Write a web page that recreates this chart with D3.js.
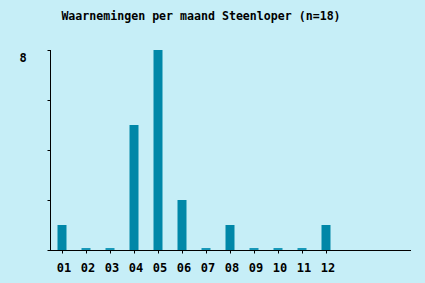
<!DOCTYPE html>
<html>
<head>
<meta charset="utf-8">
<script src="https://cdn.jsdelivr.net/npm/d3@7"></script>
<style>
  html, body { margin: 0; padding: 0; background: #c6eef7; }
  svg { display: block; }
  text { font-family: "DejaVu Sans Mono", "Liberation Mono", monospace; font-weight: bold; fill: #000; }
</style>
</head>
<body>
<svg id="chart"></svg>
<script>
// Data
const months = ["01", "02", "03", "04", "05", "06", "07", "08", "09", "10", "11", "12"];
const counts = [1, 0, 0, 5, 8, 2, 0, 1, 0, 0, 0, 1];
const yTicks = [0, 2, 4, 6, 8];
const yLabels = [8];
const title = "Waarnemingen per maand Steenloper (n=18)";

const width = 425;
const height = 283;

const svg = d3.select("#chart")
    .attr("width", width)
    .attr("height", height);

svg.append("rect")
    .attr("width", width)
    .attr("height", height)
    .attr("fill", "#c6eef7");

// x runs over 15 slots, only the first 12 hold months
const xScale = d3.scaleLinear()
    .domain([0.5, 15.5])
    .range([50, 410]);

const yScale = d3.scaleLinear()
    .domain([0, 8])
    .range([250, 50]);

const barWidth = 9;

// Title
svg.append("text")
    .attr("x", 201)
    .attr("y", 20)
    .attr("text-anchor", "middle")
    .style("font-size", "11.6px")
    .text(title);

// Bars
const data = months.map((m, i) => ({ month: m, index: i + 1, count: counts[i] }));

svg.selectAll(".bar")
    .data(data)
    .enter().append("rect")
    .attr("class", "bar")
    .attr("x", d => xScale(d.index) - barWidth / 2)
    .attr("y", d => d.count > 0 ? yScale(d.count) : yScale(0) - 2)
    .attr("width", barWidth)
    .attr("height", d => d.count > 0 ? yScale(0) - yScale(d.count) : 2)
    .attr("fill", d => d.count > 0 ? "#0087a8" : "#1898b8");

// Y axis
const yAxis = d3.axisLeft(yScale)
    .tickValues(yTicks)
    .tickSize(3)
    .tickFormat("");

const yAxisG = svg.append("g")
    .attr("transform", "translate(50.5,0)")
    .call(yAxis);
yAxisG.select(".domain").remove();
yAxisG.append("line")
    .attr("x1", 0).attr("x2", 0)
    .attr("y1", yScale(8)).attr("y2", yScale(0))
    .attr("stroke", "#000");
yAxisG.selectAll(".tick line").attr("stroke", "#000");

svg.selectAll(".ylabel")
    .data(yLabels)
    .enter().append("text")
    .attr("class", "ylabel")
    .attr("x", 23)
    .attr("y", d => yScale(d) + 11.5)
    .attr("text-anchor", "middle")
    .style("font-size", "12px")
    .text(d => d);

// X axis
const xAxis = d3.axisBottom(xScale)
    .tickValues(d3.range(1, 13))
    .tickSize(3)
    .tickFormat("");

const xAxisG = svg.append("g")
    .attr("transform", "translate(0,250.5)")
    .call(xAxis);
xAxisG.select(".domain").remove();
xAxisG.append("line")
    .attr("x1", 50).attr("x2", 411)
    .attr("y1", 0).attr("y2", 0)
    .attr("stroke", "#000");
xAxisG.selectAll(".tick line").attr("stroke", "#000");

svg.selectAll(".xlabel")
    .data(data)
    .enter().append("text")
    .attr("class", "xlabel")
    .attr("x", d => xScale(d.index) + 2)
    .attr("y", 271.5)
    .attr("text-anchor", "middle")
    .style("font-size", "12px")
    .text(d => d.month);
</script>
</body>
</html>
